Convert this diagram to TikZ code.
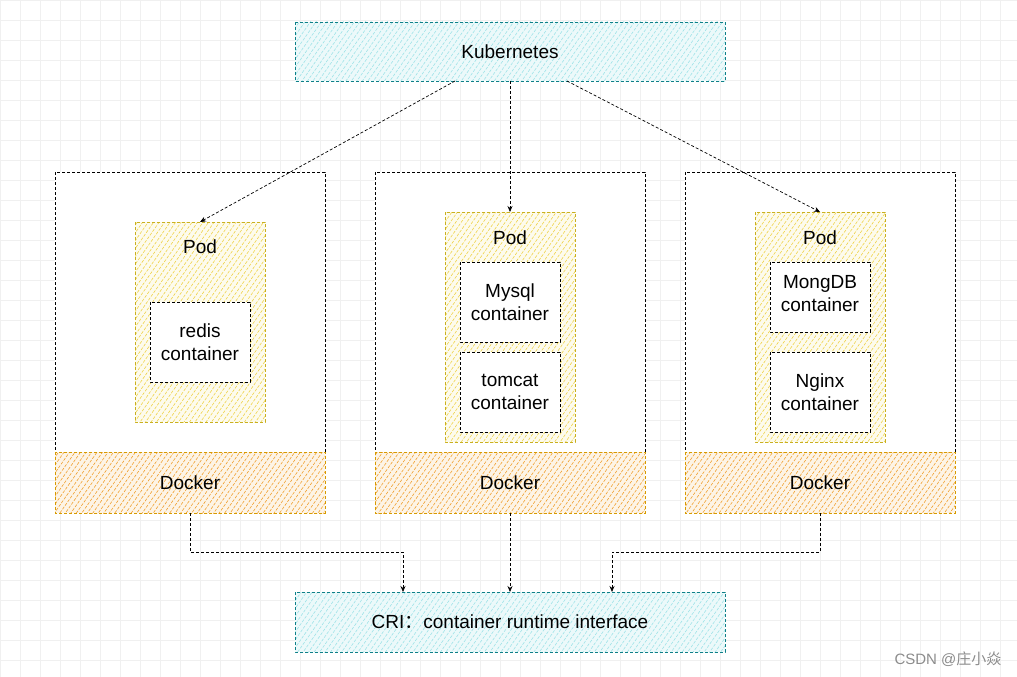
\documentclass[tikz,border=0pt]{standalone}
\usepackage{fontspec}
\setmainfont{Liberation Sans}
\newfontfamily\cjk{Noto Sans CJK SC}
\usetikzlibrary{patterns.meta,arrows.meta}
\definecolor{tealb}{HTML}{0E8088}
\definecolor{cyanf}{HTML}{9FE3E8}
\definecolor{yelb}{HTML}{C9B020}
\definecolor{yelf}{HTML}{EFD34A}
\definecolor{orb}{HTML}{D79B00}
\definecolor{orf}{HTML}{F0A030}
\tikzset{
 box/.style={draw, line width=0.8pt, dash pattern=on 3pt off 2pt},
 hatch/.style={pattern={Lines[angle=55,distance=4.5pt,line width=0.6pt]}},
 kube/.style={box, draw=tealb, hatch, pattern color=cyanf},
 pod/.style={box, draw=yelb, hatch, pattern color=yelf},
 dock/.style={box, draw=orb, hatch, pattern color=orf},
 host/.style={box, draw=black, fill=white},
 ctr/.style={box, draw=black, fill=white},
 lbl/.style={font=\fontsize{19}{23}\selectfont, align=center},
 arr/.style={draw=black, dash pattern=on 3pt off 2pt, line width=0.7pt, -{Stealth[length=6pt,width=5pt]}},
}
\begin{document}
\begin{tikzpicture}[x=1pt,y=-1pt]
\useasboundingbox (0,0) rectangle (1017,677);
\fill[white] (0,0) rectangle (1017,677);
\foreach \i in {0,20,...,1017} \draw[black!6,line width=0.5pt] (\i,0) -- (\i,677);
\foreach \j in {0,20,...,677} \draw[black!6,line width=0.5pt] (0,\j) -- (1017,\j);
% hosts
\foreach \x/\n in {55/a,375/b,685/c}{
 \draw[host] (\x,172) rectangle ++(270,280);
 \fill[orf!12] (\x,452) rectangle ++(270,61);
 \draw[dock] (\x,452) rectangle ++(270,61);
 \node[lbl] (dock\n) at (\x+135,482.5) {Docker};
 \coordinate (dbot\n) at (\x+135,513);
}
% kube
\fill[cyanf!20] (295,22) rectangle (725,81);
\draw[kube] (295,22) rectangle (725,81);
\node[lbl] (kube) at (510,51.5) {Kubernetes};
\fill[cyanf!20] (295,592) rectangle (725,652);
\draw[kube] (295,592) rectangle (725,652);
\node[lbl] (cri) at (510,622) {CRI{\cjk ：}container runtime interface};
% pods
\fill[yelf!10] (135,222) rectangle (265,422);
\draw[pod] (135,222) rectangle (265,422);
\node[lbl] (poda) at (200,247) {Pod};
\fill[yelf!10] (445,212) rectangle (575,442);
\draw[pod] (445,212) rectangle (575,442);
\node[lbl] (podb) at (510,238) {Pod};
\fill[yelf!10] (755,212) rectangle (885,442);
\draw[pod] (755,212) rectangle (885,442);
\node[lbl] (podc) at (820,238) {Pod};
% containers
\draw[ctr] (150,302) rectangle (250,382); \node[lbl] (redis) at (200,342) {redis\\container};
\draw[ctr] (460,262) rectangle (560,342); \node[lbl] (mysql) at (510,302) {Mysql\\container};
\draw[ctr] (460,352) rectangle (560,432); \node[lbl] (tomcat) at (510,392) {tomcat\\container};
\draw[ctr] (770,262) rectangle (870,332); \node[lbl] (mongo) at (820,294) {MongDB\\container};
\draw[ctr] (770,352) rectangle (870,432); \node[lbl] (nginx) at (820,392) {Nginx\\container};
% arrows
\coordinate (k1) at (455,81); \coordinate (k2) at (510,81); \coordinate (k3) at (567,81);
\coordinate (p1) at (200,222); \coordinate (p2) at (510,212); \coordinate (p3) at (820,212);
\draw[arr] (k1) -- (p1);
\draw[arr] (k2) -- (p2);
\draw[arr] (k3) -- (p3);
\coordinate (c1) at (403,592); \coordinate (c2) at (510,592); \coordinate (c3) at (612,592);
\draw[arr] (dbota) -- (190,552) -| (c1);
\draw[arr] (dbotb) -- (c2);
\draw[arr] (dbotc) -- (820,552) -| (c3);
\node[font=\fontsize{15}{18}\selectfont, text=black!45, anchor=east] (wm) at (1005,659) {CSDN @{\cjk 庄小焱}};
\end{tikzpicture}
\end{document}
